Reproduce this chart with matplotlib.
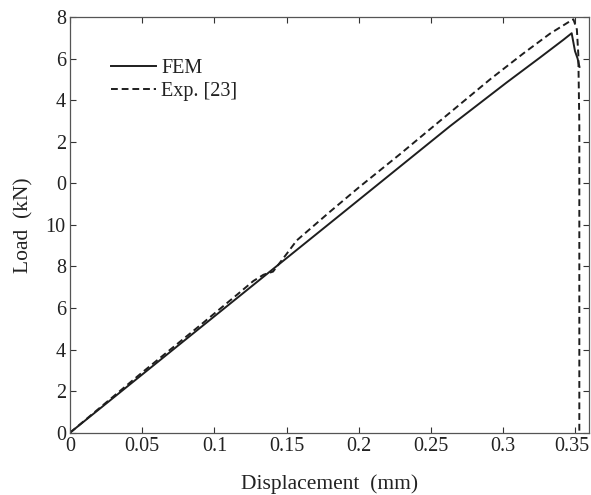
import matplotlib
matplotlib.use("Agg")
import matplotlib.pyplot as plt
import matplotlib.transforms as mtransforms

# FEM curve
fem_x = [0, 0.05, 0.10, 0.15, 0.1875, 0.2632, 0.3024, 0.3255, 0.3416, 0.3474, 0.3497, 0.3515, 0.3528]
fem_y = [0, 2.8, 5.6, 8.4, 10.5, 14.75, 16.85, 18.05, 18.9, 19.22, 18.36, 18.0, 17.6]

# Experimental curve
exp_x = [0, 0.05, 0.09, 0.115, 0.127, 0.134, 0.1406, 0.15, 0.157, 0.18, 0.20, 0.2285,
         0.2562, 0.2909, 0.314, 0.3324, 0.3463, 0.3486, 0.351, 0.352, 0.3527, 0.3527]
exp_y = [0, 2.9, 5.16, 6.6, 7.3, 7.6, 7.75, 8.6, 9.25, 10.63, 11.8, 13.4,
         15.0, 17.0, 18.25, 19.2, 19.8, 19.89, 19.4, 18.2, 14.8, 0]

x_ticks = [0, 0.05, 0.10, 0.15, 0.20, 0.25, 0.30, 0.35]
x_tick_labels = ["0", "0.05", "0.1", "0.15", "0.2", "0.25", "0.3", "0.35"]
y_ticks = [0, 2, 4, 6, 8, 10, 12, 14, 16, 18, 20]
y_tick_labels = ["0", "2", "4", "6", "8", "10", "0", "2", "4", "6", "8"]

plt.rcParams['font.family'] = ['Liberation Serif', 'DejaVu Serif']

fig = plt.figure(figsize=(5.91, 4.95), dpi=100)
ax = fig.add_axes([70/591, 1 - 432.7/495, (589-70)/591, (432.7-17)/495])

col = '#1e1e1e'
ax.plot(fem_x, fem_y, '-', color=col, lw=1.4, label='FEM')
ax.plot(exp_x, exp_y, '--', color=col, lw=1.4, dashes=(3.5, 2), label='Exp. [23]')

ax.set_xlim(0, 0.3594)
ax.set_ylim(0, 20)
ax.set_xticks(x_ticks)
ax.set_xticklabels(x_tick_labels)
ax.set_yticks(y_ticks)
ax.set_yticklabels(y_tick_labels)
ax.tick_params(direction='in', top=True, right=True, length=4, width=0.8,
               labelsize=14.5, colors='#333333', labelcolor='#222222', pad=3)
for s in ax.spines.values():
    s.set_color('#555555')
    s.set_linewidth(0.9)

# nudge the last x tick label slightly left so it stays inside the figure
last = ax.get_xticklabels()[-1]
last.set_transform(last.get_transform() + mtransforms.ScaledTranslation(-4/100, 0, fig.dpi_scale_trans))

ax.set_xlabel('Displacement  (mm)', fontsize=15.5, color='#222222', labelpad=13)
ax.set_ylabel('Load  (kN)', fontsize=15.5, color='#222222', labelpad=9)

leg = ax.legend(loc='upper left', bbox_to_anchor=(0.063, 0.919), frameon=False,
                fontsize=14.5, handlelength=2.25, handletextpad=0.25, labelspacing=0.22,
                borderaxespad=0)
for t in leg.get_texts():
    t.set_color('#222222')

fig.savefig('out.png', dpi=100)
